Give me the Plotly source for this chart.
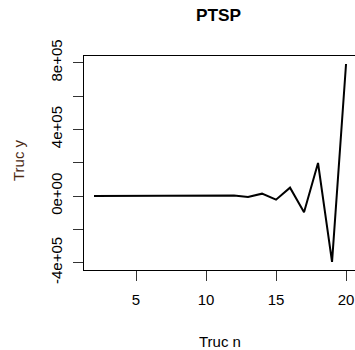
import plotly.graph_objects as go

n_values = list(range(2, 21))
y_values = [0, 0, 0, 0, 0, 0, 0, 200, -400, 800, 3000, -6000, 14000, -22000,
            50000, -97000, 198000, -395000, 792000]
x_tick_vals = [5, 10, 15, 20]
y_tick_vals = [-400000, -200000, 0, 200000, 400000, 600000, 800000]
y_tick_text = ["-4e+05", "", "0e+00", "", "4e+05", "", "8e+05"]

FONT = "Liberation Sans, Arial, sans-serif"

fig = go.Figure()
fig.add_trace(go.Scatter(x=n_values, y=y_values, mode="lines",
                         line=dict(color="black", width=2), showlegend=False))

fig.update_layout(
    width=355, height=350,
    margin=dict(l=84, r=0, t=56, b=80),
    paper_bgcolor="white", plot_bgcolor="white",
    font=dict(family=FONT, size=15, color="black"),
    xaxis=dict(range=[1.286, 20.64], tickvals=x_tick_vals,
               showline=True, linecolor="black", linewidth=1, mirror=True,
               ticks="outside", ticklen=10, tickcolor="#333", tickwidth=1,
               showgrid=False, zeroline=False, ticklabelstandoff=6),
    yaxis=dict(range=[-444000, 840000], tickvals=y_tick_vals, ticktext=y_tick_text,
               tickangle=-90,
               showline=True, linecolor="black", linewidth=1,
               ticks="outside", ticklen=10, tickcolor="#333", tickwidth=1,
               showgrid=False, zeroline=False, ticklabelstandoff=5),
    annotations=[
        dict(text="<b>PTSP</b>", xref="paper", yref="paper", x=(218-84)/271,
             y=(270-15)/214, xanchor="center", yanchor="middle", showarrow=False,
             font=dict(family=FONT, size=17.3, color="black")),
        dict(text="Truc n", xref="paper", yref="paper", x=(220-84)/271,
             y=(270-341)/214, xanchor="center", yanchor="middle", showarrow=False,
             font=dict(family=FONT, size=15, color="black")),
        dict(text="Truc y", xref="paper", yref="paper", x=(18-84)/271,
             y=(270-160)/214, xanchor="center", yanchor="middle", showarrow=False,
             textangle=-90, font=dict(family=FONT, size=15, color="#4b2a14")),
    ],
)

fig.write_html("out.html", config={"displayModeBar": False},
               post_script="document.body.style.margin='0';"
                           "document.body.style.overflow='hidden';")
